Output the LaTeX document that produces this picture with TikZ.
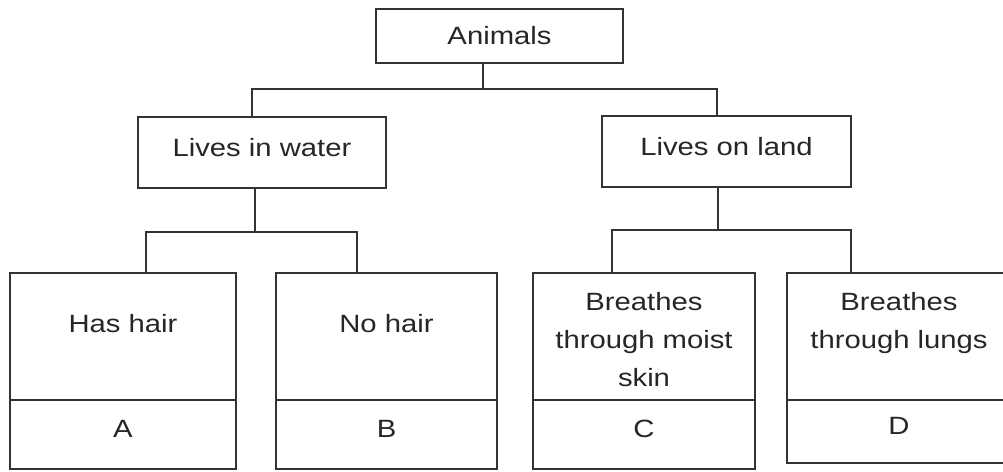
\documentclass[tikz,border=0pt]{standalone}
\usepackage{fontspec}
\setmainfont{Liberation Sans}[FakeStretch=1.17]
\usepackage{tikz}

\begin{document}
\begin{tikzpicture}[x=1pt, y=-1pt,
      box/.style={draw=black!80, line width=1.3pt, rectangle, inner sep=0pt,
        outer sep=0pt, font=\fontsize{25}{38}\selectfont, text=black!85},
      txt/.style={font=\fontsize{25}{38}\selectfont, text=black!85, align=center},
      branch/.style={draw=black!80, line width=1.3pt},
    ]
    \useasboundingbox (0,0) rectangle (1003,471);

    % Root and first split
    \node[box, minimum width=247pt, minimum height=54pt] (animals) at (499.5,36) {Animals};
    \node[box, minimum width=248pt, minimum height=71pt, text depth=10pt]
      (water) at (262,152.5) {Lives in water};
    \node[box, minimum width=249pt, minimum height=71pt, text depth=10pt]
      (land) at (726.5,151.5) {Lives on land};

    % Leaf boxes, letter row below
    \foreach \name/\x/\w/\h/\letter in {hair/123/226/69/A, nohair/386.5/221/69/B,
                                       skin/644/222/69/C, lungs/899/224/63/D}
    {
      \node[box, minimum width=\w pt, minimum height=127pt] (\name) at (\x,336.5) {};
      \node[box, minimum width=\w pt, minimum height=\h pt, text depth=12pt,
        anchor=north] (\name L) at (\name.south) {\letter};
    }
    \node[txt] (hairT) at (123,324) {Has hair};
    \node[txt] (nohairT) at (386.5,324) {No hair};
    \node[txt] (skinT) at (644,340) {Breathes\\through moist\\skin};
    \node[txt] (lungsT) at (899,323.5) {Breathes\\through lungs};

    % Connectors
    \coordinate (rootJ) at (483,89);
    \coordinate (waterJ) at (252,89);
    \coordinate (landJ) at (717,89);
    \draw[branch] (animals.south -| rootJ) -- (rootJ);
    \draw[branch] (water.north -| waterJ) -- (waterJ) -- (landJ) -- (land.north -| landJ);

    \coordinate (waterS) at (255,232);
    \coordinate (hairJ) at (146,232);
    \coordinate (nohairJ) at (357,232);
    \draw[branch] (water.south -| waterS) -- (waterS);
    \draw[branch] (hair.north -| hairJ) -- (hairJ) -- (nohairJ) -- (nohair.north -| nohairJ);

    \coordinate (landS) at (718,230);
    \coordinate (skinJ) at (612,230);
    \coordinate (lungsJ) at (851,230);
    \draw[branch] (land.south -| landS) -- (landS);
    \draw[branch] (skin.north -| skinJ) -- (skinJ) -- (lungsJ) -- (lungs.north -| lungsJ);
  \end{tikzpicture}
\end{document}
